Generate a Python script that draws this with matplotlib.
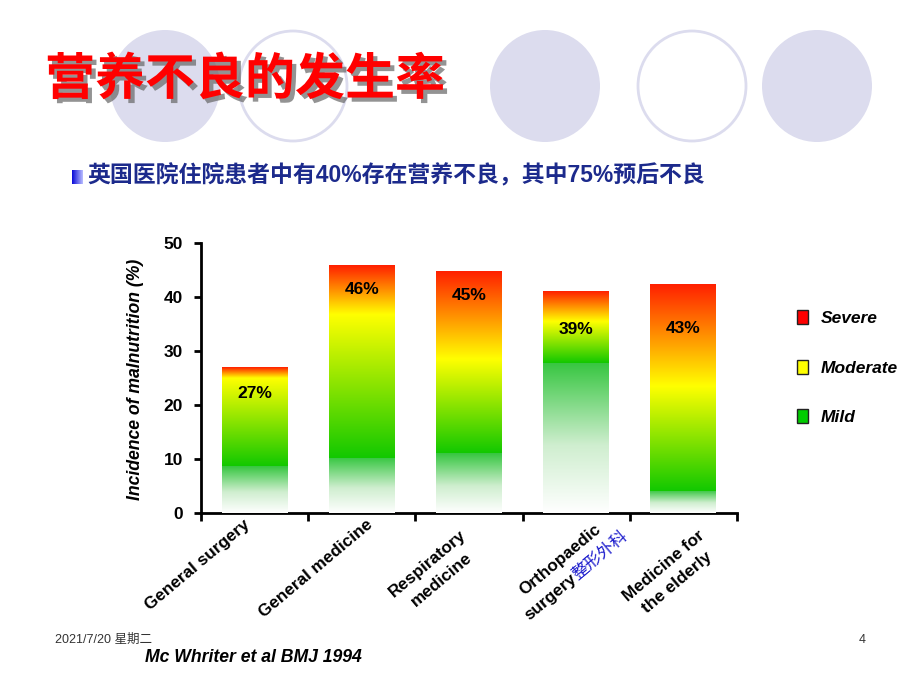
import numpy as np
import matplotlib
matplotlib.use('Agg')
import matplotlib.pyplot as plt
from matplotlib.colors import LinearSegmentedColormap
from matplotlib.patches import Ellipse, Rectangle
import matplotlib.patheffects as pe

plt.rcParams['font.family'] = ['Liberation Sans', 'Noto Sans CJK SC', 'DejaVu Sans']

# ---- data ----
categories = ['General surgery', 'General medicine', 'Respiratory\nmedicine',
              'Orthopaedic\nsurgery', 'Medicine for\nthe elderly']
mild = [8.7, 10.2, 11.1, 27.8, 4.1]            # green part (fades to white)
moderate_top = [25.0, 36.8, 28.5, 35.5, 23.5]  # level where colour is pure yellow
total = [27.0, 45.9, 44.8, 41.1, 42.4]         # top of bar (red)
value_labels = ['27%', '46%', '45%', '39%', '43%']
label_y = [22.2, 41.3, 40.2, 33.9, 34.1]
yticks = [0, 10, 20, 30, 40, 50]
legend_names = ['Severe', 'Moderate', 'Mild']
legend_colors = ['#ff0000', '#ffff00', '#00cc00']

W, H = 920, 690
def fx(px): return px / W
def fy(py): return 1 - py / H

fig = plt.figure(figsize=(9.2, 6.9), dpi=100)

# decorative ellipses behind the title
lav = '#dcdcee'
for cx, filled in [(165, True), (293, False), (545, True), (692, False), (817, True)]:
    if filled:
        e = Ellipse((fx(cx), fy(86)), 110 / W, 112 / H, transform=fig.transFigure,
                    facecolor=lav, edgecolor='none', zorder=0)
    else:
        e = Ellipse((fx(cx), fy(86)), 108 / W, 110 / H, transform=fig.transFigure,
                    facecolor='none', edgecolor=lav, lw=2, zorder=0)
    fig.add_artist(e)

# title
fig.text(fx(45), fy(80), '营养不良的发生率', fontsize=36, color='#ff0000',
         family=['Noto Sans CJK SC'], weight='bold', va='center', ha='left',
         path_effects=[pe.SimplePatchShadow(offset=(3, -3), shadow_rgbFace='#666666', alpha=0.7),
                       pe.Normal()])

# bullet + subtitle
bax = fig.add_axes([fx(72), fy(184), 11 / W, 14 / H])
bax.imshow(np.linspace(0, 1, 32).reshape(1, -1), cmap=LinearSegmentedColormap.from_list(
    'b', ['#0a0ad8', '#b8bcff']), aspect='auto')
bax.axis('off')
fig.text(fx(87), fy(176), '英国医院住院患者中有40%存在营养不良，其中75%预后不良',
         fontsize=16.5, color='#1c2a8c', weight='bold',
         family=['Liberation Sans', 'Noto Sans CJK SC'], va='center', ha='left')

# ---- chart ----
ax = fig.add_axes([fx(201), fy(513), (737 - 201) / W, (513 - 243) / H])
x = np.arange(len(categories))
bars = ax.bar(x, total, width=0.615, color='none', edgecolor='none')

grad = np.linspace(0, 1, 256).reshape(-1, 1)
mild_cmap = LinearSegmentedColormap.from_list(
    'mild', [(0, '#ffffff'), (0.45, '#cfeecf'), (1, '#36c640')])
for b, m, mt, t in zip(bars, mild, moderate_top, total):
    x0 = b.get_x()
    x1 = x0 + b.get_width()
    ax.imshow(grad, extent=[x0, x1, 0, m], origin='lower', cmap=mild_cmap,
              aspect='auto', zorder=3, interpolation='bilinear')
    f = (mt - m) / (t - m)
    cm = LinearSegmentedColormap.from_list(
        'up', [(0, '#12c800'), (f, '#ffff00'), (1, '#ff2000')])
    ax.imshow(grad, extent=[x0, x1, m, t], origin='lower', cmap=cm,
              aspect='auto', zorder=3, interpolation='bilinear')

for xi, ly, lab in zip(x, label_y, value_labels):
    ax.text(xi, ly, lab, ha='center', va='center', fontsize=12.5,
            weight='bold', zorder=5)

ax.set_xlim(-0.5, len(categories) - 0.5)
ax.set_ylim(0, 50)
ax.spines['top'].set_visible(False)
ax.spines['right'].set_visible(False)
for s in ['left', 'bottom']:
    ax.spines[s].set_linewidth(2)
ax.set_yticks(yticks)
ax.set_yticklabels([str(v) for v in yticks], fontsize=12.5, weight='bold')
ax.set_xticks(np.arange(-0.5, len(categories)))
ax.set_xticklabels([])
ax.tick_params(axis='y', length=5, width=2, pad=8)
ax.tick_params(axis='x', length=6, width=2)

# category labels (rotated, placed like the slide)
rot = 40
offsets = [(-57.5, -52), (-46, -56), (-34.5, -58.5), None, (-13, -61.5)]
for xi, lab, off in zip(x, categories, offsets):
    if off is None:
        continue
    ax.annotate(lab, xy=(xi, 0), xycoords=('data', 'axes fraction'),
                xytext=off, textcoords='offset pixels', rotation=rot,
                rotation_mode='anchor', ha='center', va='center',
                multialignment='center', linespacing=1.5, fontsize=12.3,
                weight='bold', annotation_clip=False)
# orthopaedic label: second line has blue chinese text appended
first, second = categories[3].split('\n')
ax.annotate(first, xy=(3, 0), xycoords=('data', 'axes fraction'),
            xytext=(-12.8, -49.8), textcoords='offset pixels', rotation=rot,
            rotation_mode='anchor', ha='center', va='baseline',
            fontsize=12.3, weight='bold', annotation_clip=False)
ax.annotate(second, xy=(3, 0), xycoords=('data', 'axes fraction'),
            xytext=(1.7, -67), textcoords='offset pixels', rotation=rot,
            rotation_mode='anchor', ha='right', va='baseline',
            fontsize=12.3, weight='bold', annotation_clip=False)
ax.annotate('整形外科', xy=(3, 0), xycoords=('data', 'axes fraction'),
            xytext=(1.7, -67), textcoords='offset pixels', rotation=rot,
            rotation_mode='anchor', ha='left', va='baseline',
            fontsize=12, color='#1a1acc', family=['Noto Sans CJK SC'],
            annotation_clip=False)

fig.text(fx(135), fy(379), 'Incidence of malnutrition (%)', rotation=90,
         ha='center', va='center', fontsize=12.7, weight='bold', style='italic')

# legend
for i, (name, col) in enumerate(zip(legend_names, legend_colors)):
    cy = 317 + i * 49.5
    fig.add_artist(Rectangle((fx(797), fy(cy + 7)), 11 / W, 14 / H,
                             transform=fig.transFigure, facecolor=col,
                             edgecolor='#222222', lw=1))
    fig.text(fx(821), fy(cy + 2), name, fontsize=12.5, weight='bold',
             style='italic', va='center', ha='left')

# footer
fig.text(fx(55), fy(640), '2021/7/20 星期二', fontsize=9, color='#333333',
         va='center', ha='left')
fig.text(fx(862), fy(640), '4', fontsize=9, color='#333333', va='center', ha='center')
fig.text(fx(145), fy(658), 'Mc Whriter et al BMJ 1994', fontsize=12.7,
         weight='bold', style='italic', va='center', ha='left')

fig.savefig('out.png', dpi=100)
